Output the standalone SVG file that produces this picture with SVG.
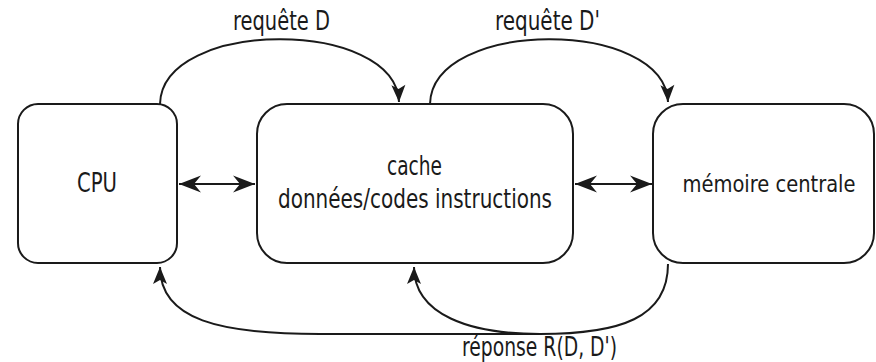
<svg xmlns="http://www.w3.org/2000/svg" width="876" height="362" viewBox="0 0 876 362">
  <style>
    .box { fill: #ffffff; stroke: #1a1a1a; stroke-width: 2; }
    .link { fill: none; stroke: #1a1a1a; stroke-width: 2; }
    .lbl { font-family: "DejaVu Sans Condensed", "DejaVu Sans", sans-serif; font-size: 26px; fill: #1a1a1a; text-anchor: middle; }
    .sm { font-size: 23px; }
  </style>
  <defs>
    <!-- small head for the request/response arcs -->
    <marker id="head" markerUnits="userSpaceOnUse" markerWidth="20" markerHeight="16" viewBox="-18 -8 20 16" refX="0" refY="0" orient="auto">
      <path d="M0,0 L-17,-7 L-13,0 L-17,7 Z" fill="#1a1a1a"/>
    </marker>
    <!-- larger heads for the bidirectional data links -->
    <marker id="bigEnd" markerUnits="userSpaceOnUse" markerWidth="26" markerHeight="20" viewBox="-24 -10 26 20" refX="0" refY="0" orient="auto">
      <path d="M0,0 L-22,-8.5 L-15,0 L-22,8.5 Z" fill="#1a1a1a"/>
    </marker>
    <marker id="bigStart" markerUnits="userSpaceOnUse" markerWidth="26" markerHeight="20" viewBox="-2 -10 26 20" refX="0" refY="0" orient="auto">
      <path d="M0,0 L22,-8.5 L15,0 L22,8.5 Z" fill="#1a1a1a"/>
    </marker>
  </defs>

  <g id="cpu">
    <rect class="box" x="18" y="104" width="159" height="159" rx="20" ry="20"/>
    <text class="lbl" x="97" y="192" textLength="40" lengthAdjust="spacingAndGlyphs">CPU</text>
  </g>

  <g id="cache">
    <rect class="box" x="257" y="104" width="316" height="159" rx="30" ry="30"/>
    <text class="lbl" x="414.5" y="175" textLength="55" lengthAdjust="spacingAndGlyphs">cache</text>
    <text class="lbl" x="415" y="208" textLength="274" lengthAdjust="spacingAndGlyphs">données/codes instructions</text>
  </g>

  <g id="memoire">
    <rect class="box" x="653" y="104" width="221" height="159" rx="30" ry="30"/>
    <text class="lbl sm" x="769" y="192" textLength="173" lengthAdjust="spacingAndGlyphs">mémoire centrale</text>
  </g>

  <g id="connectors">
    <!-- data links -->
    <path class="link" d="M179,184 L255,184" marker-start="url(#bigStart)" marker-end="url(#bigEnd)"/>
    <path class="link" d="M575,184 L652,184" marker-start="url(#bigStart)" marker-end="url(#bigEnd)"/>
    <!-- requests -->
    <path class="link" d="M160,104 C162,18 396,18 399,102" marker-end="url(#head)"/>
    <path class="link" d="M430,104 C432,18 665,18 668,102" marker-end="url(#head)"/>
    <!-- response back to CPU -->
    <path class="link" d="M668,264 C668,318 620,334 540,334 L320,334 C220,334 160,320 160,267" marker-end="url(#head)"/>
    <!-- response back to cache -->
    <path class="link" d="M540,334 C470,334 414,315 414,267" marker-end="url(#head)"/>
    <text class="lbl" x="281.5" y="30" textLength="97" lengthAdjust="spacingAndGlyphs">requête D</text>
    <text class="lbl" x="547.5" y="30" textLength="105" lengthAdjust="spacingAndGlyphs">requête D'</text>
    <text class="lbl" x="539.5" y="356" textLength="155" lengthAdjust="spacingAndGlyphs">réponse R(D, D')</text>
  </g>
</svg>
